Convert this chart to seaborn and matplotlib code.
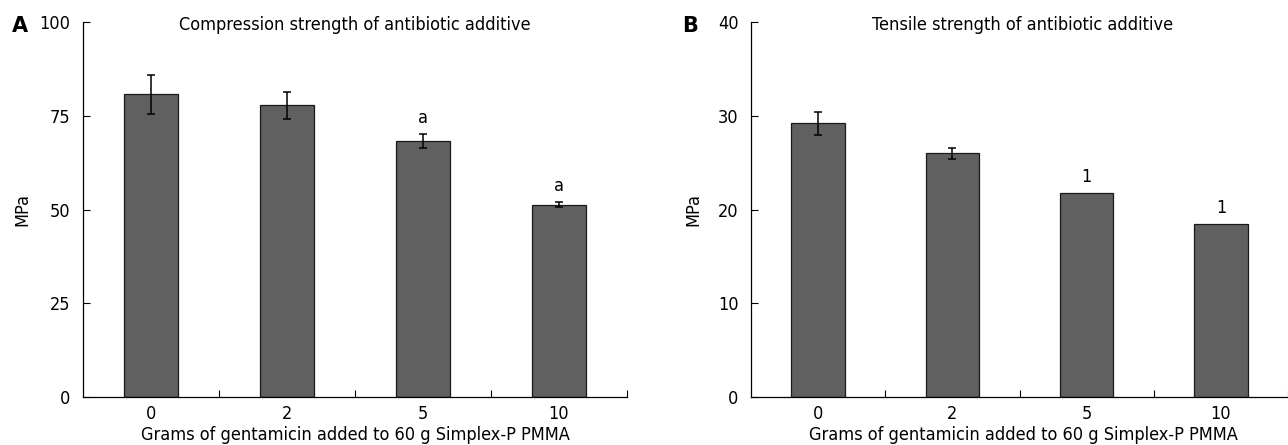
import numpy as np
import pandas as pd
import matplotlib
matplotlib.use("Agg")
import matplotlib.pyplot as plt
import seaborn as sns

# Dados
gramas = ["0", "2", "5", "10"]
compressao = [80.7, 77.8, 68.3, 51.3]
compressao_err = [5.1, 3.6, 1.9, 0.6]
tracao = [29.2, 26.0, 21.8, 18.45]
tracao_err = [1.25, 0.6, 0.0, 0.0]
marcas_a = ["", "", "a", "a"]
marcas_b = ["", "", "1", "1"]

sns.set_theme(style="white")
plt.rcParams["font.family"] = ["DejaVu Sans"]
plt.rcParams["font.stretch"] = "condensed"
plt.rcParams["text.color"] = "black"
plt.rcParams["xtick.color"] = "black"
plt.rcParams["ytick.color"] = "black"
plt.rcParams["axes.labelcolor"] = "black"

W, H = 1288, 445
fig = plt.figure(figsize=(W / 100, H / 100), dpi=100)
# eixos: topo em y=22, base em y=397 (pixels)
axA = fig.add_axes([83 / W, 1 - 397 / H, 544 / W, 375 / H])
axB = fig.add_axes([751 / W, 1 - 397 / H, 537 / W, 375 / H])

FS = 13


def painel(ax, valores, erros, marcas, ymax, yticks, titulo, letra, letra_x, largura_px, mpa_px):
    df = pd.DataFrame({"g": gramas, "v": valores})
    sns.barplot(data=df, x="g", y="v", ax=ax, color="#606060", saturation=1,
                width=0.4, errorbar=None, edgecolor="#1a1a1a", linewidth=0.9)
    for p, e, m, v in zip(ax.patches, erros, marcas, valores):
        xc = p.get_x() + p.get_width() / 2
        if e > 0:
            ax.errorbar(xc, v, yerr=e, fmt="none", ecolor="black",
                        elinewidth=1.1, capsize=2.6, capthick=1.1)
        if m:
            ax.annotate(m, (xc, v + e), xytext=(0, 11.5), textcoords="offset points",
                        ha="center", va="center", fontsize=FS)
    ax.set_xlim(-0.5, -0.5 + 4 * largura_px / 544)
    ax.set_ylim(0, ymax)
    ax.set_yticks(yticks)
    ax.set_yticklabels([str(t) for t in yticks], fontsize=FS)
    ax.set_xticks(range(len(gramas)))
    ax.set_xticklabels(gramas, fontsize=FS)
    ax.set_xticks([0.5, 1.5, 2.5, 3.5], minor=True)
    ax.tick_params(axis="x", which="major", length=0, pad=6)
    ax.tick_params(axis="x", which="minor", length=5, direction="in",
                   width=0.8, color="black", bottom=True)
    ax.tick_params(axis="y", which="major", length=5, direction="in",
                   width=0.8, color="black", left=True, pad=9)
    for s in ["top", "right"]:
        ax.spines[s].set_visible(False)
    for s in ["left", "bottom"]:
        ax.spines[s].set_color("black")
        ax.spines[s].set_linewidth(0.9)
    ax.set_xlabel("Grams of gentamicin added to 60 g Simplex-P PMMA", fontsize=FS)
    ax.xaxis.set_label_coords(272 / largura_px, -(435 - 397) / 375)
    ax.xaxis.label.set_va("center")
    ax.set_ylabel("MPa", fontsize=FS)
    ax.yaxis.set_label_coords(-mpa_px / largura_px, 0.5)
    ax.yaxis.label.set_va("center")
    ax.text(272 / largura_px, 1.0 - 3 / 375, titulo, transform=ax.transAxes,
            ha="center", va="center", fontsize=FS)
    fig.text(letra_x / W, 1 - 26 / H, letra, fontsize=15, fontweight="heavy",
             ha="center", va="center", fontstretch="normal")


painel(axA, compressao, compressao_err, marcas_a, 100, [0, 25, 50, 75, 100],
       "Compression strength of antibiotic additive", "A", 20, 544, 61)
painel(axB, tracao, tracao_err, marcas_b, 40, [0, 10, 20, 30, 40],
       "Tensile strength of antibiotic additive", "B", 690, 537, 58)

fig.savefig("out.png", dpi=100)
